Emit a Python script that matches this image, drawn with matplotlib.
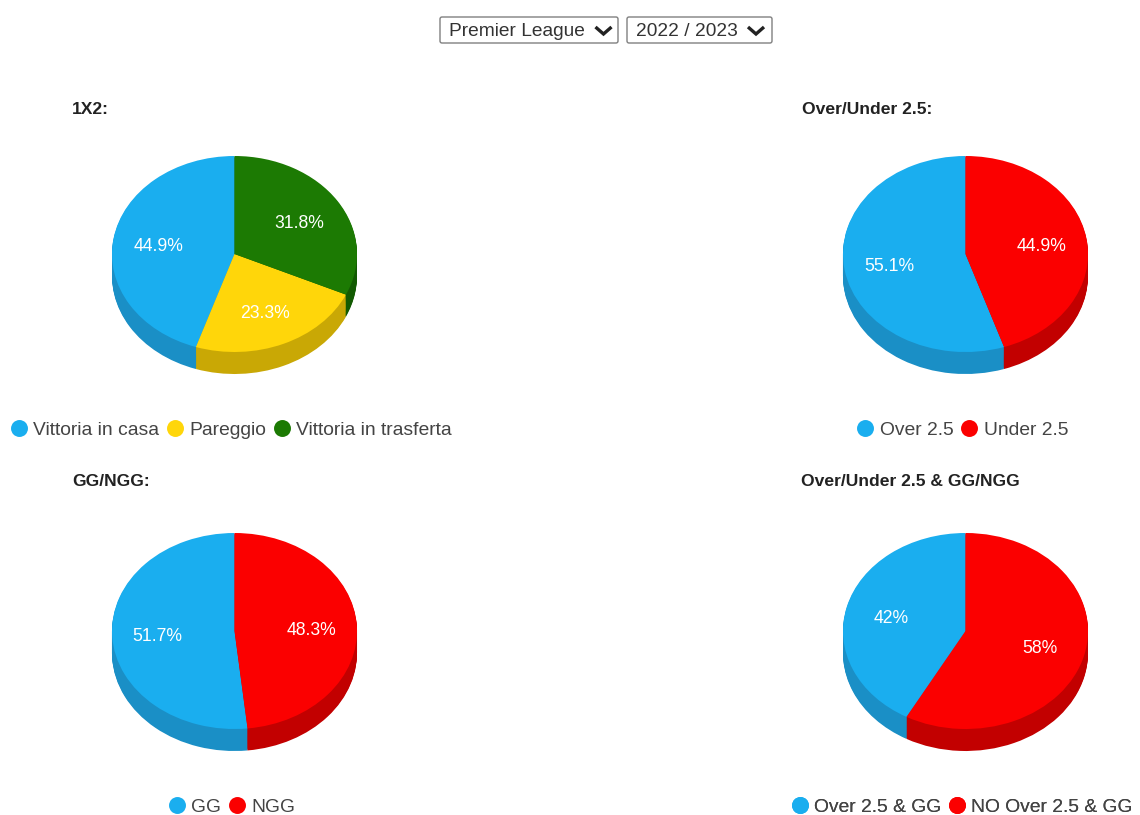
import matplotlib
matplotlib.use("Agg")
import matplotlib.pyplot as plt
import numpy as np
from matplotlib.lines import Line2D
from matplotlib.patches import FancyBboxPatch

plt.rcParams['font.family'] = ['Liberation Sans', 'DejaVu Sans']

W, H = 1140, 815

# ====== DATA =======
labels_1x2 = ["Vittoria in casa", "Pareggio", "Vittoria in trasferta"]
values_1x2 = [44.9, 23.3, 31.8]

labels_ou = ["Over 2.5", "Under 2.5"]
values_ou = [55.1, 44.9]

labels_gg = ["GG", "NGG"]
values_gg = [51.7, 48.3]

labels_ougg = ["Over 2.5 & GG", "NO Over 2.5 & GG"]
values_ougg = [42, 58]

league_choice = "Premier League"
season_choice = "2022 / 2023"

# ====== COLOURS =======
BLUE = ("#1aaeef", "#1a8fc6")
YELLOW = ("#ffd60a", "#c9a805")
GREEN = ("#1c7a03", "#125a02")
RED = ("#fb0000", "#c20000")

# ====== LAYOUT (pixels) =======
PIE_W = 245
PIE_H = 196
DEPTH = 22


def draw_pie(left, top, title, title_x, title_y, legend_x, legend_y, labels, values, colors):
    # axes holds the top face plus the wall underneath it
    ax = fig.add_axes([left / W, 1 - (top + PIE_H + DEPTH) / H, PIE_W / W, (PIE_H + DEPTH) / H])
    face = [c[0] for c in colors]
    wall = [c[1] for c in colors]
    d = 2 * DEPTH / PIE_H

    # wall = same pie stacked downwards in the darker colours
    for off in np.linspace(d, 0.01, DEPTH + 1):
        ax.pie(values, colors=wall, startangle=90, center=(0, -off),
               wedgeprops={'linewidth': 0, 'clip_on': False})

    _, _, pct_texts = ax.pie(values, colors=face, startangle=90, pctdistance=0.63,
                             autopct=lambda p: '%g%%' % round(p, 1),
                             textprops={'color': 'white', 'fontsize': 12.7},
                             wedgeprops={'linewidth': 0, 'clip_on': False})
    # labels sit a little lower than the slice centre in the original
    for t in pct_texts:
        tx, ty = t.get_position()
        t.set_position((tx, ty - 0.025))

    ax.set_aspect('auto')
    ax.set_xlim(-1, 1)
    ax.set_ylim(-1 - d, 1)

    page.text(title_x, title_y, title, fontsize=12.6, fontweight='bold', color='#222222',
              ha='left', va='center')

    handles = [Line2D([], [], linestyle='none', marker='o', markersize=12.2,
                      markerfacecolor=c, markeredgecolor=c, markeredgewidth=0) for c in face]
    leg = page.legend(handles, labels, ncol=len(labels), loc='center',
                      bbox_to_anchor=(legend_x, legend_y), bbox_transform=page.transData,
                      frameon=False, fontsize=13.9, labelcolor='#444444', handlelength=0.88,
                      handletextpad=0.3, columnspacing=0.38, borderpad=0, borderaxespad=0)
    page.add_artist(leg)


def draw_select(x0, x1, y0, y1, text, arrow_x):
    box = FancyBboxPatch((x0, y0), x1 - x0, y1 - y0, boxstyle="round,pad=0,rounding_size=2",
                         facecolor='white', edgecolor='#808080', linewidth=1.0)
    page.add_patch(box)
    my = (y0 + y1) / 2
    page.text(x0 + 9, my + 1.5, text, fontsize=13.8, color='#333333', ha='left', va='center')
    page.plot([arrow_x - 8, arrow_x, arrow_x + 8], [my - 3, my + 4, my - 3], color='#222222',
              linewidth=2.4, solid_capstyle='butt', solid_joinstyle='miter')


fig = plt.figure(figsize=(W / 100, H / 100), dpi=100, facecolor='white')

# full page axes in pixel units for the titles, legends and dropdowns
page = fig.add_axes([0, 0, 1, 1])
page.set_xlim(0, W)
page.set_ylim(H, 0)
page.axis('off')

draw_select(440, 618, 17, 43, league_choice, 603.5)
draw_select(627, 772, 17, 43, season_choice, 756)

draw_pie(112, 156, "1X2:", 72, 109, 231, 430, labels_1x2, values_1x2, [BLUE, YELLOW, GREEN])
draw_pie(843, 156, "Over/Under 2.5:", 802, 109, 962.5, 430, labels_ou, values_ou, [BLUE, RED])
draw_pie(112, 533, "GG/NGG:", 72, 482, 232, 807, labels_gg, values_gg, [BLUE, RED])
draw_pie(843, 533, "Over/Under 2.5 & GG/NGG", 801, 482, 962, 807, labels_ougg, values_ougg, [BLUE, RED])

plt.savefig("out.png", dpi=100)
plt.close()
